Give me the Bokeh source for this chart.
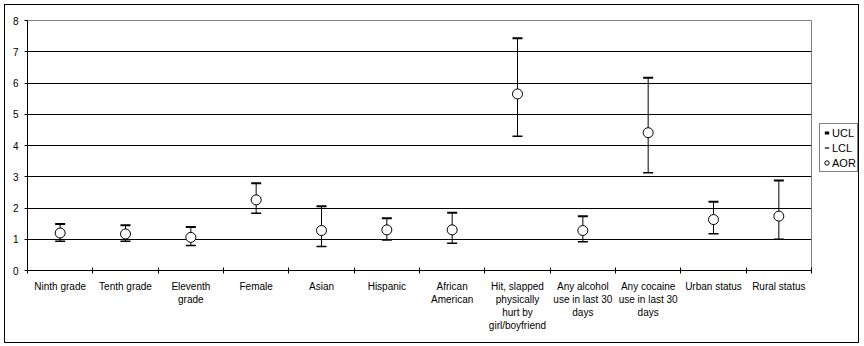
from bokeh.plotting import figure
from bokeh.layouts import row
from bokeh.models import (Range1d, FixedTicker, ColumnDataSource, Legend, LegendItem)
from bokeh.embed import file_html
from bokeh.resources import INLINE

categories = ["Ninth grade", "Tenth grade", "Eleventh\ngrade", "Female", "Asian", "Hispanic",
              "African\nAmerican", "Hit, slapped\nphysically\nhurt by\ngirl/boyfriend",
              "Any alcohol\nuse in last 30\ndays", "Any cocaine\nuse in last 30\ndays",
              "Urban status", "Rural status"]
aor = [1.20, 1.17, 1.06, 2.26, 1.28, 1.30, 1.30, 5.65, 1.28, 4.41, 1.63, 1.74]
ucl = [1.49, 1.45, 1.39, 2.79, 2.06, 1.67, 1.85, 7.43, 1.74, 6.17, 2.20, 2.88]
lcl = [0.94, 0.94, 0.80, 1.83, 0.77, 0.98, 0.87, 4.30, 0.92, 3.13, 1.18, 1.00]
y_ticks = [0, 1, 2, 3, 4, 5, 6, 7, 8]
series_names = ["UCL", "LCL", "AOR"]

FONT = "Liberation Sans"
xs = [i + 0.5 for i in range(len(categories))]
src = ColumnDataSource(dict(x=xs, aor=aor, ucl=ucl, lcl=lcl))

p = figure(width=813, height=337, output_backend="svg", toolbar_location=None,
           x_range=Range1d(0, len(categories)), y_range=Range1d(0, 8),
           min_border_left=22, min_border_right=7, min_border_top=15, min_border_bottom=72)
p.border_fill_color = "white"
p.background_fill_color = "white"
p.outline_line_color = "#808080"
p.outline_line_width = 1

p.xgrid.visible = False
p.ygrid.grid_line_color = "black"
p.ygrid.grid_line_width = 1
p.ygrid.ticker = FixedTicker(ticks=y_ticks)

p.yaxis.ticker = FixedTicker(ticks=y_ticks)
p.yaxis.axis_line_color = "black"
p.yaxis.major_tick_line_color = "black"
p.yaxis.major_tick_out = 3
p.yaxis.major_tick_in = 0
p.yaxis.minor_tick_line_color = None
p.yaxis.major_label_text_font = FONT
p.yaxis.major_label_text_font_size = "10px"
p.yaxis.major_label_text_color = "black"
p.yaxis.major_label_standoff = 6

p.xaxis.ticker = FixedTicker(ticks=xs, minor_ticks=list(range(len(categories) + 1)))
p.xaxis.major_label_overrides = {x: c for x, c in zip(xs, categories)}
p.xaxis.major_tick_in = 0
p.xaxis.major_tick_out = 0
p.xaxis.major_tick_line_color = None
p.xaxis.minor_tick_in = 3
p.xaxis.minor_tick_out = 3
p.xaxis.minor_tick_line_color = "black"
p.xaxis.axis_line_color = "black"
p.xaxis.major_label_text_font = FONT
p.xaxis.major_label_text_font_size = "10px"
p.xaxis.major_label_text_color = "black"
p.xaxis.major_label_text_line_height = 1.2
p.xaxis.major_label_standoff = 7

p.segment(x0="x", y0="lcl", x1="x", y1="ucl", source=src, line_color="black", line_width=1)
p.scatter(x="x", y="ucl", source=src, marker="dash", size=10, line_width=2,
          line_color="black")
p.scatter(x="x", y="lcl", source=src, marker="dash", size=10, line_width=1.5,
          line_color="black")
p.scatter(x="x", y="aor", source=src, marker="circle", size=10, fill_color="white",
          line_color="black", line_width=1)

# legend panel (dummy renderers with no visible points, used only for legend glyphs)
lf = figure(width=40, height=337, output_backend="svg", toolbar_location=None,
            x_range=Range1d(0, 1), y_range=Range1d(0, 1), x_axis_type=None, y_axis_type=None,
            min_border=0, min_border_left=0, min_border_right=0, min_border_top=0,
            min_border_bottom=0)
lf.outline_line_color = None
lf.xgrid.visible = False
lf.ygrid.visible = False
lf.border_fill_color = "white"
lf.background_fill_color = "white"
nan = float("nan")
dummy = ColumnDataSource(dict(x=[nan], y=[nan]))
l_ucl = lf.scatter(x="x", y="y", source=dummy, marker="dash", size=6, line_width=3,
                   line_color="black")
l_lcl = lf.scatter(x="x", y="y", source=dummy, marker="dash", size=6, line_width=1.2,
                   line_color="black")
l_aor = lf.scatter(x="x", y="y", source=dummy, marker="circle", size=6, fill_color="white",
                   line_color="black", line_width=1)
legend = Legend(items=[LegendItem(label=series_names[0], renderers=[l_ucl]),
                       LegendItem(label=series_names[1], renderers=[l_lcl]),
                       LegendItem(label=series_names[2], renderers=[l_aor])],
                location=(1, 98), orientation="vertical")
legend.label_text_font = FONT
legend.label_text_font_size = "11px"
legend.label_text_color = "black"
legend.glyph_width = 11
legend.glyph_height = 15
legend.label_height = 15
legend.label_standoff = 0
legend.spacing = 0
legend.padding = 1
legend.margin = 0
legend.border_line_color = "black"
legend.border_line_width = 1
legend.background_fill_color = "white"
legend.background_fill_alpha = 1
lf.add_layout(legend)

layout = row(p, lf, margin=(4, 5, 3, 4), styles={"border": "1px solid black"})

open("out.html", "w").write(file_html(layout, INLINE))
